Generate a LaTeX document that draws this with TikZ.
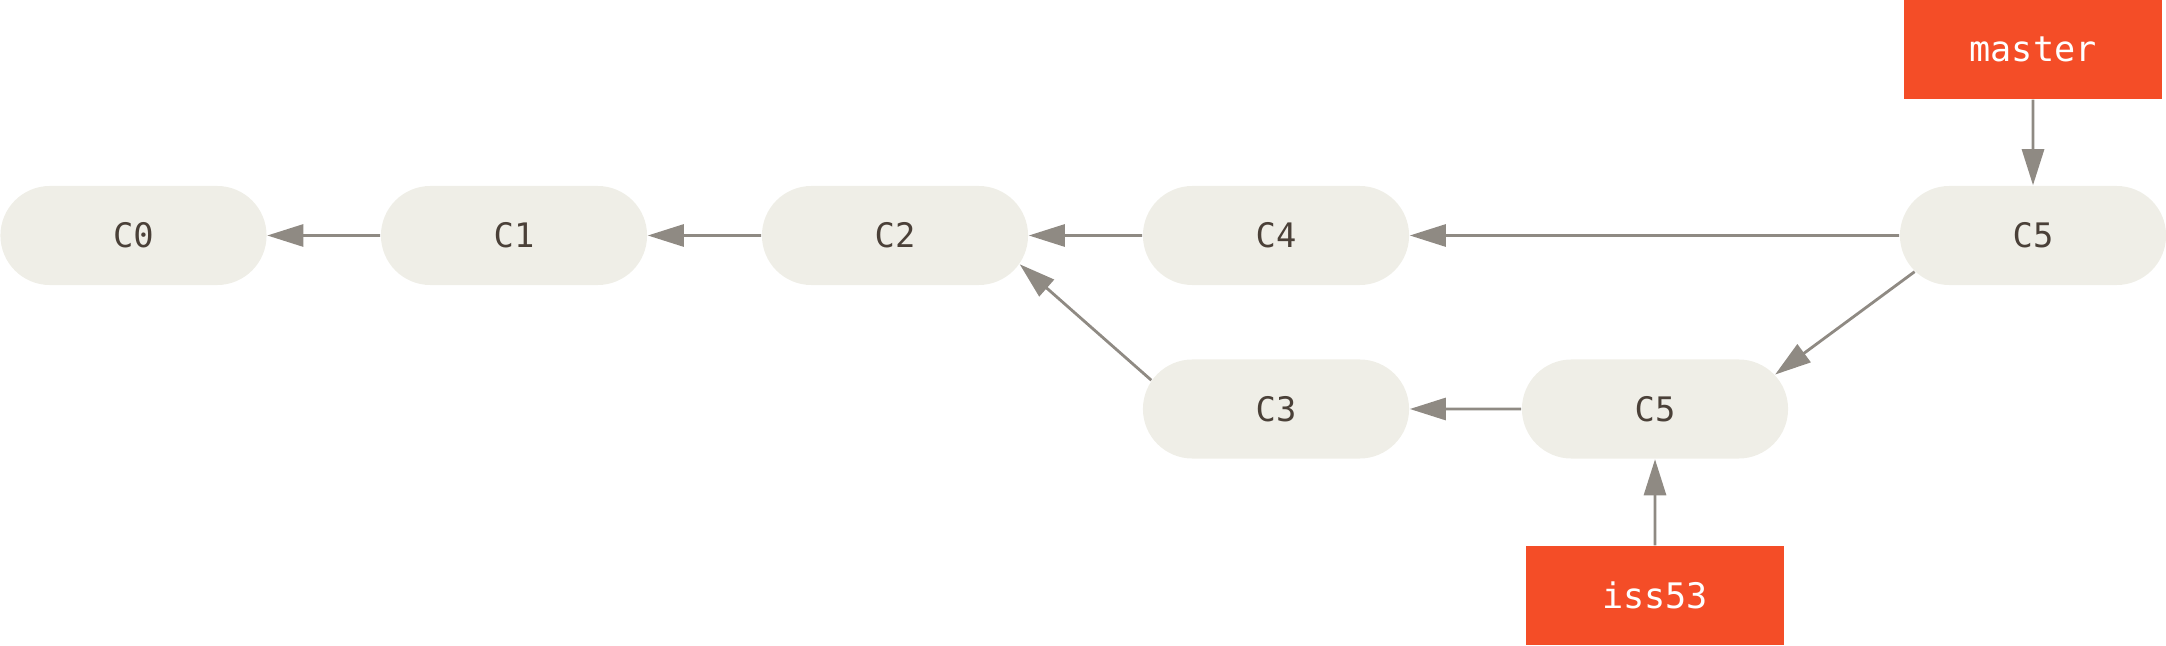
\documentclass[tikz,border=0pt]{standalone}
\usepackage{fontspec}
\setmonofont{DejaVu Sans Mono}
\usetikzlibrary{shapes.misc,arrows.meta}
\definecolor{commitfill}{HTML}{EFEEE7}
\definecolor{committext}{HTML}{4A4038}
\definecolor{arrowgray}{HTML}{8F8A83}
\definecolor{branchred}{HTML}{F44D27}
\begin{document}
\begin{tikzpicture}[x=0.01cm,y=0.01cm,
  commit/.style={rounded rectangle, rounded rectangle arc length=180, fill=commitfill, draw=none,
    minimum width=2.66cm, minimum height=0.99cm, inner sep=0pt,
    text=committext, font=\ttfamily\fontsize{9.6}{11}\selectfont},
  branch/.style={rectangle, fill=branchred, draw=none,
    minimum width=2.58cm, minimum height=0.99cm, inner sep=0pt,
    text=white, font=\ttfamily\fontsize{10}{12}\selectfont},
  arr/.style={draw=arrowgray, line width=0.8pt, -{Triangle[length=3.6mm,width=2.2mm]}}]
\useasboundingbox (0,0) rectangle (2166,645);
\node[commit] (C0) at (133.5,409.5) {C0};
\node[commit] (C1) at (514,409.5) {C1};
\node[commit] (C2) at (895,409.5) {C2};
\node[commit] (C4) at (1276,409.5) {C4};
\node[commit] (C5t) at (2033,409.5) {C5};
\node[commit] (C3) at (1276,236) {C3};
\node[commit] (C5l) at (1655,236) {C5};
\node[branch] (master) at (2033,595.5) {master};
\node[branch] (iss53) at (1655,49.5) {iss53};
\draw[arr] (C1) -- (C0);
\draw[arr] (C2) -- (C1);
\draw[arr] (C4) -- (C2);
\draw[arr] (C5t) -- (C4);
\draw[arr] (C3.167) -- (C2.-13);
\draw[arr] (C5l) -- (C3);
\draw[arr] (C5t.197) -- (C5l.16);
\draw[arr] (master) -- (C5t);
\draw[arr] (iss53) -- (C5l);
\end{tikzpicture}
\end{document}
